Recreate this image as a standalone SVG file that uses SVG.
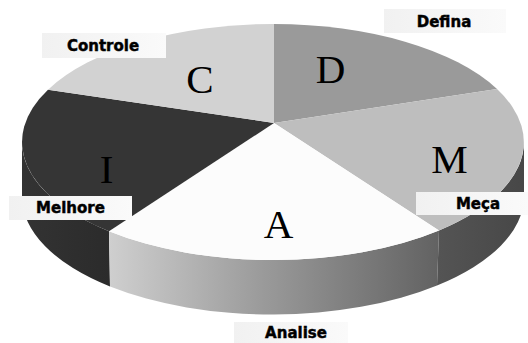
<svg xmlns="http://www.w3.org/2000/svg" width="528" height="343" viewBox="0 0 528 343">
  <defs>
    <linearGradient id="sideA" x1="109" y1="0" x2="439" y2="0" gradientUnits="userSpaceOnUse">
      <stop offset="0" stop-color="#cfcfcf"/>
      <stop offset="0.45" stop-color="#9c9c9c"/>
      <stop offset="1" stop-color="#626262"/>
    </linearGradient>
    <linearGradient id="sideM" x1="439" y1="0" x2="524" y2="0" gradientUnits="userSpaceOnUse">
      <stop offset="0" stop-color="#545454"/>
      <stop offset="1" stop-color="#474747"/>
    </linearGradient>
    <linearGradient id="sideI" x1="22" y1="0" x2="110" y2="0" gradientUnits="userSpaceOnUse">
      <stop offset="0" stop-color="#333333"/>
      <stop offset="1" stop-color="#2b2b2b"/>
    </linearGradient>
    <linearGradient id="tag" x1="0" y1="0" x2="1" y2="0">
      <stop offset="0" stop-color="#f1f1f1"/>
      <stop offset="1" stop-color="#fafafa"/>
    </linearGradient>
  </defs>
  <style>
    .letter { font-family: "Liberation Serif", "Times New Roman", serif; font-size: 41px; fill: #000; text-anchor: middle; }
    .tag rect { fill: url(#tag); }
    .tag text { font-family: "DejaVu Sans", "Liberation Sans", sans-serif; font-weight: bold; font-size: 15px; fill: #000; stroke: #000; stroke-width: 0.45px; text-anchor: middle; }
  </style>

  <!-- side walls of the disc (visible front half) -->
  <g id="walls">
    <path d="M 22 142 A 251 118 0 0 0 109 231.3 L 110 286.5 A 251 118 0 0 1 22 197 Z" fill="url(#sideI)"/>
    <path d="M 109 231.3 A 251 118 0 0 0 439 230.5 L 437 285.5 A 251 118 0 0 1 110 286.5 Z" fill="url(#sideA)"/>
    <path d="M 439 230.5 A 251 118 0 0 0 524 142 L 524 197 A 251 118 0 0 1 437 285.5 Z" fill="url(#sideM)"/>
  </g>

  <!-- top faces of the five slices -->
  <g id="slice-D">
    <path d="M 274 123 L 274 24 A 251 118 0 0 1 497 89 Z" fill="#9a9a9a"/>
    <text class="letter" x="330.5" y="83">D</text>
  </g>
  <g id="slice-M">
    <path d="M 274 123 L 497 89 A 251 118 0 0 1 439 230.5 Z" fill="#bebebe"/>
    <text class="letter" x="449.5" y="173">M</text>
  </g>
  <g id="slice-A">
    <path d="M 274 123 L 439 230.5 A 251 118 0 0 1 109 231.3 Z" fill="#fcfcfc"/>
    <text class="letter" x="278.5" y="238">A</text>
  </g>
  <g id="slice-I">
    <path d="M 274 123 L 109 231.3 A 251 118 0 0 1 48 89.7 Z" fill="#353535"/>
    <text class="letter" x="106.5" y="183">I</text>
  </g>
  <g id="slice-C">
    <path d="M 274 123 L 48 89.7 A 251 118 0 0 1 274 24 Z" fill="#d2d2d2"/>
    <text class="letter" x="200" y="93">C</text>
  </g>

  <!-- phase labels -->
  <g id="label-defina" class="tag">
    <rect x="384" y="9" width="122" height="24"/>
    <text x="444" y="27">Defina</text>
  </g>
  <g id="label-controle" class="tag">
    <rect x="42" y="33" width="124" height="25"/>
    <text x="103" y="50.5">Controle</text>
  </g>
  <g id="label-melhore" class="tag">
    <rect x="9" y="196" width="123" height="24"/>
    <text x="70.5" y="213">Melhore</text>
  </g>
  <g id="label-meca" class="tag">
    <rect x="416" y="192" width="112" height="23"/>
    <text x="478" y="209">Meça</text>
  </g>
  <g id="label-analise" class="tag">
    <rect x="234" y="322" width="114" height="21"/>
    <text x="296" y="338">Analise</text>
  </g>
</svg>
